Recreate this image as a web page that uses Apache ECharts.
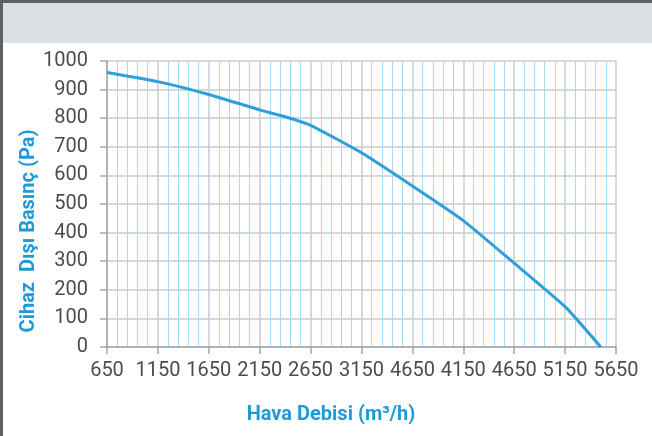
<!DOCTYPE html>
<html>
<head>
<meta charset="utf-8">
<script src="https://cdn.jsdelivr.net/npm/echarts@6/dist/echarts.min.js"></script>
<style>
  html, body { margin: 0; padding: 0; background: #fff; }
  #main { width: 652px; height: 436px; }
</style>
</head>
<body>
<div id="main"></div>
<script>
// hava debisi (m3/h) ve dış basınç (Pa)
var airflow = [650, 1150, 1650, 2150, 2400, 2650, 3150, 3650, 4150, 4650, 5150, 5500];
var pressure = [960, 928, 883, 829, 805, 775, 679, 563, 442, 293, 141, 0];
// grafikteki eksen etiketleri (orijinaldeki gibi)
var xTickLabels = ['650', '1150', '1650', '2150', '2650', '3150', '4650', '4150', '4650', '5150', '5650'];
var yTicks = [0, 100, 200, 300, 400, 500, 600, 700, 800, 900, 1000];

var blue = '#2f9fdc';
var textGray = '#4a4d50';
var gridGray = '#c9ccd0';

var myChart = echarts.init(document.getElementById('main'));
myChart.setOption({
    animation: false,
    grid: { left: 107, right: 36, top: 61, bottom: 89 },
    graphic: [
        { type: 'rect', shape: { x: 0, y: 0, width: 652, height: 43 }, style: { fill: '#dcdfe3' }, z: -1 },
        { type: 'rect', shape: { x: 0, y: 0, width: 652, height: 3 }, style: { fill: '#5d6266' } },
        { type: 'rect', shape: { x: 0, y: 0, width: 3, height: 436 }, style: { fill: '#5d6266' } },
        {
            type: 'text', x: 29, y: 231, rotation: Math.PI / 2,
            style: {
                text: 'Cihaz  Dışı Basınç (Pa)', fill: '#1e9ad8',
                font: 'bold 20px Roboto', align: 'center', verticalAlign: 'middle'
            }
        },
        {
            type: 'text', x: 331, y: 415,
            style: {
                text: 'Hava Debisi (m³/h)', fill: '#1e9ad8',
                font: 'bold 20px Roboto', align: 'center', verticalAlign: 'middle'
            }
        }
    ],
    xAxis: {
        type: 'value',
        min: 650, max: 5650, interval: 500,
        axisLine: { show: true, lineStyle: { color: '#a3a7ab', width: 1.5 } },
        axisTick: { show: true, length: 7, lineStyle: { color: '#a3a7ab', width: 1.5 } },
        axisLabel: {
            margin: 14, color: textGray, fontSize: 20, fontFamily: 'Roboto',
            formatter: function (v) { return xTickLabels[Math.round((v - 650) / 500)]; }
        },
        splitLine: { show: true, lineStyle: { color: gridGray, width: 1.5 } },
        minorTick: { show: false, splitNumber: 5 },
        minorSplitLine: { show: true, lineStyle: { color: '#a8dbf1', width: 1 } }
    },
    yAxis: {
        type: 'value',
        min: 0, max: 1000, interval: 100,
        axisLine: { show: true, lineStyle: { color: '#a3a7ab', width: 1.5 } },
        axisTick: { show: true, length: 7, lineStyle: { color: '#a3a7ab', width: 1.5 } },
        axisLabel: {
            margin: 19, color: textGray, fontSize: 20, fontFamily: 'Roboto',
            formatter: function (v) { return yTicks.indexOf(v) >= 0 ? String(v) : ''; }
        },
        splitLine: { show: true, lineStyle: { color: gridGray, width: 1.5 } }
    },
    series: [{
        type: 'line',
        data: airflow.map(function (x, i) { return [x, pressure[i]]; }),
        showSymbol: false,
        smooth: 0.15,
        lineStyle: { color: blue, width: 3 },
        z: 5
    }]
});
</script>
</body>
</html>
